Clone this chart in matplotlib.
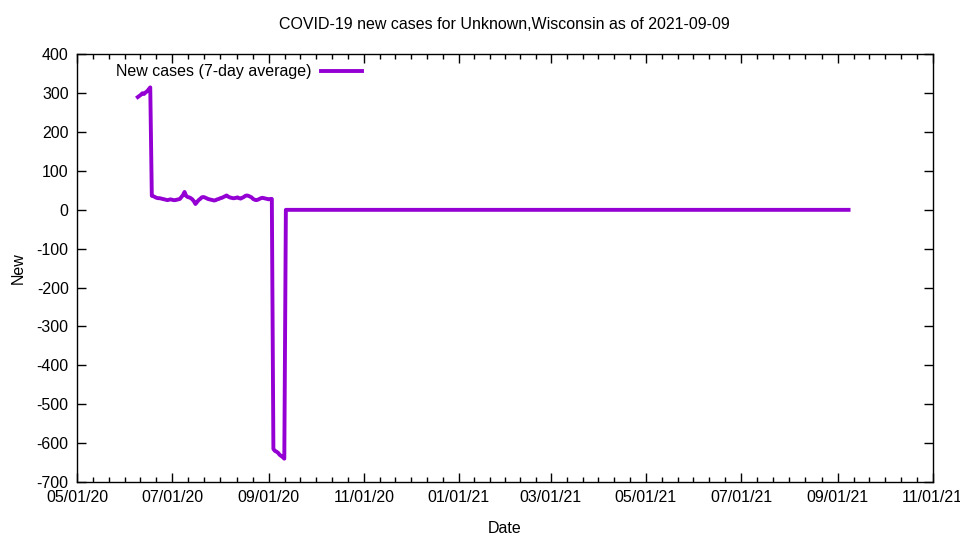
import numpy as np
import pandas as pd
import matplotlib
matplotlib.use("Agg")
import matplotlib.pyplot as plt
import matplotlib.dates as mdates
from matplotlib.ticker import FixedLocator

plt.rcParams['font.family'] = ['Liberation Sans', 'DejaVu Sans']
plt.rcParams['font.size'] = 11.5
plt.rcParams['axes.unicode_minus'] = False

# datos (media móvil de 7 días)
fecha_inicio = "2020-06-09"
pico = [290, 293, 296, 300, 298, 302, 305, 310, 315]
ruido = [36, 35, 33, 31, 30, 30, 29, 28, 27, 26, 25, 26, 27, 26, 25, 25,
         26, 27, 28, 33, 38, 46, 36, 33, 32, 30, 27, 22, 15, 20, 25, 28,
         32, 33, 32, 30, 28, 27, 26, 25, 24, 25, 27, 28, 30, 31, 33, 35,
         37, 34, 32, 31, 30, 30, 31, 32, 30, 29, 31, 33, 36, 37, 36, 34,
         32, 28, 26, 25, 26, 28, 30, 31, 30, 29, 28, 27, 28, 28]
negativo = [-615, -620, -622, -625, -630, -633, -636, -640]
cero = [0] * 362
valores = pico + ruido + negativo + cero
fechas = pd.date_range(fecha_inicio, periods=len(valores), freq="D")

titulo = "COVID-19 new cases for Unknown,Wisconsin as of 2021-09-09"
etiqueta = "New cases (7-day average)"
x_min, x_max = "2020-05-01", "2021-11-01"
y_ticks = list(range(-700, 401, 100))

fig = plt.figure(figsize=(9.6, 5.4), dpi=100)
ax = fig.add_axes([0.0802, 0.1074, 0.8914, 0.7920])

ax.plot(fechas, valores, color="#9400D3", lw=2.8, label=etiqueta)

ax.set_xlim(pd.Timestamp(x_min), pd.Timestamp(x_max))
ax.set_ylim(-700, 400)
ax.set_yticks(y_ticks)

mayores = pd.date_range(x_min, x_max, freq="2MS")
ax.set_xticks(mayores)
ax.xaxis.set_major_formatter(mdates.DateFormatter("%m/%d/%y"))
num = mdates.date2num(mayores)
menores = []
for a, b in zip(num[:-1], num[1:]):
    menores.extend(np.linspace(a, b, 7)[1:-1])
ax.xaxis.set_minor_locator(FixedLocator(menores))

ax.tick_params(which="both", direction="in", top=True, right=True, width=1)
ax.tick_params(which="major", length=6.5, pad=6)
ax.tick_params(which="minor", length=3.5)
for s in ax.spines.values():
    s.set_linewidth(1)

ax.set_title(titulo, fontsize=11.5, pad=18)
ax.set_xlabel("Date", labelpad=11)
ax.set_ylabel("New", labelpad=8)

ax.legend(loc="upper left", bbox_to_anchor=(0.046, 0.977), frameon=False,
          markerfirst=False, borderpad=0, borderaxespad=0,
          handlelength=2.6, handletextpad=0.55)

fig.savefig("out.png", dpi=100)
